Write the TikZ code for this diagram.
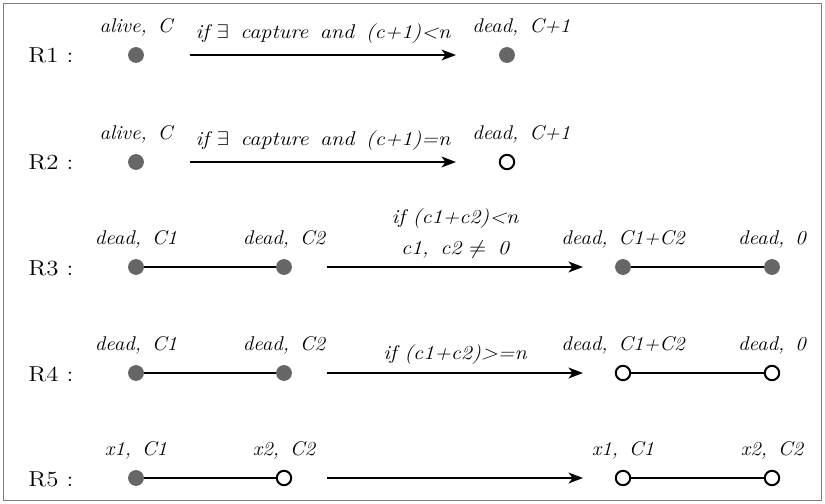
\documentclass[tikz,border=0pt]{standalone}
\usetikzlibrary{graphs}
\usetikzlibrary{arrows.meta}
\definecolor{dotgray}{RGB}{102,102,102}
\definecolor{framegray}{RGB}{125,125,125}
\tikzset{
  dot/.style= {circle, fill=dotgray, inner sep=0, minimum size=8.8pt},
  odot/.style= {circle, draw, fill=white, line width=1.1pt, inner sep=0, minimum size=8pt},
  tag/.style= {font=\fontsize{11}{13}\selectfont\itshape, xscale=1.06, inner sep=0, text height=1.6ex, text depth=0.4ex},
  cond/.style= {font=\fontsize{11}{13}\selectfont\itshape, xscale=1.12, inner sep=0, anchor=south, text depth=0.4ex},
  rule/.style= {font=\large, anchor=base west, xscale=1.15, inner sep=0},
  link/.style= {line width=1.1pt},
  trans/.style= {-{Stealth[length=8pt, width=6pt, inset=2.2pt]}, line width=1.1pt},
  every label/.style= {tag},
  label distance=6pt,
}

\begin{document}
\begin{tikzpicture}[x=0.555pt, y=-0.555pt]
  \useasboundingbox (0,0) rectangle (825,504);
  \draw [framegray, line width=0.9pt] (3.5,3.5) rectangle (821.5,500.5);

  % R1
  \node [rule] (r1) at (28,63) {R1 :};
  \node [dot, label={above:{alive, \,C}}] (r1a) at (136,55) {};
  \node [dot, label={[xshift=7.5pt]above:{dead, \,C+1}}] (r1b) at (507,55) {};
  \coordinate (r1s) at (190,55);
  \coordinate (r1t) at (456,55);
  \draw [trans] (r1s) -- node [cond, yshift=7pt]
    {if $\exists$ \,capture \,and \,(c+1)<n} (r1t);

  % R2
  \node [rule] (r2) at (28,170) {R2 :};
  \node [dot, label={above:{alive, \,C}}] (r2a) at (136,162) {};
  \node [odot, label={[xshift=7.5pt]above:{dead, \,C+1}}] (r2b) at (507,162) {};
  \coordinate (r2s) at (190,162);
  \coordinate (r2t) at (456,162);
  \draw [trans] (r2s) -- node [cond, yshift=7pt]
    {if $\exists$ \,capture \,and \,(c+1)=n} (r2t);

  % R3
  \node [rule] (r3) at (28,275) {R3 :};
  \node [dot, label={above:{dead, \,C1}}] (r3a) at (136,267) {};
  \node [dot, label={above:{dead, \,C2}}] (r3b) at (284,267) {};
  \node [dot, label={above:{dead, \,C1+C2}}] (r3c) at (623,267) {};
  \node [dot, label={above:{dead, \,0}}] (r3d) at (772,267) {};
  \coordinate (r3s) at (327,267);
  \coordinate (r3t) at (583,267);
  \draw [trans] (r3s) -- node [cond, yshift=21.8pt] {if (c1+c2)<n}
    node [cond, yshift=4.8pt] {c1, \,c2 $\neq$ \,0} (r3t);

  % R4
  \node [rule] (r4) at (28,381) {R4 :};
  \node [dot, label={above:{dead, \,C1}}] (r4a) at (136,373) {};
  \node [dot, label={above:{dead, \,C2}}] (r4b) at (284,373) {};
  \node [odot, label={above:{dead, \,C1+C2}}] (r4c) at (623,373) {};
  \node [odot, label={above:{dead, \,0}}] (r4d) at (772,373) {};
  \coordinate (r4s) at (327,373);
  \coordinate (r4t) at (583,373);
  \draw [trans] (r4s) -- node [cond, yshift=5pt] {if (c1+c2)>=n} (r4t);

  % R5
  \node [rule] (r5) at (28,486) {R5 :};
  \node [dot, label={above:{x1, \,C1}}] (r5a) at (136,478) {};
  \node [odot, label={above:{x2, \,C2}}] (r5b) at (284,478) {};
  \node [odot, label={above:{x1, \,C1}}] (r5c) at (623,478) {};
  \node [odot, label={above:{x2, \,C2}}] (r5d) at (772,478) {};
  \coordinate (r5s) at (327,478);
  \coordinate (r5t) at (583,478);
  \draw [trans] (r5s) -- (r5t);

  \graph [edges=link] {
    (r3a) -- (r3b); (r3c) -- (r3d);
    (r4a) -- (r4b); (r4c) -- (r4d);
    (r5a) -- (r5b); (r5c) -- (r5d);
  };
\end{tikzpicture}
\end{document}
